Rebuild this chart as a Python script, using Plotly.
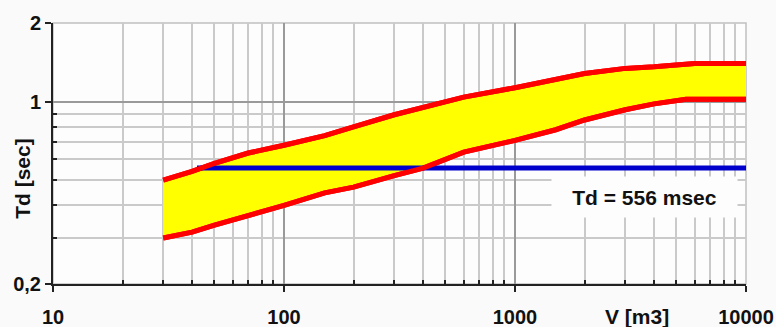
import plotly.graph_objects as go

# Volume [m3] and decay time Td [s] bounds of the band
vol_lower = [30, 40, 50, 70, 100, 150, 200, 300, 400, 600, 1000, 1500, 2000, 3000, 4000, 5500, 10000]
td_lower = [0.30, 0.316, 0.336, 0.364, 0.40, 0.447, 0.47, 0.52, 0.556, 0.64, 0.71, 0.78, 0.85, 0.93, 0.98, 1.02, 1.02]

vol_upper = [30, 40, 50, 70, 100, 150, 200, 300, 600, 1000, 2000, 3000, 4000, 6000, 10000]
td_upper = [0.50, 0.54, 0.58, 0.635, 0.68, 0.74, 0.80, 0.89, 1.04, 1.13, 1.28, 1.34, 1.36, 1.40, 1.40]

# Measured decay time
td_value = 0.556
vol_td = [42, 10000]

x_ticks = [10, 100, 1000, 10000]
x_ticktext = ["10", "100", "1000", "10000"]
x_minor = [m * d for d in (10, 100, 1000) for m in range(2, 10)]
y_ticks = [0.2, 1, 2]
y_ticktext = ["0,2", "1", "2"]
y_minor = [0.3, 0.4, 0.5, 0.6, 0.7, 0.8, 0.9]

FONT = "Liberation Sans"
RED = "#ff0000"
BLUE = "#0000cc"

fig = go.Figure()

fig.add_trace(go.Scatter(x=vol_lower, y=td_lower, mode="lines",
                         line=dict(color=RED, width=5), showlegend=False))
fig.add_trace(go.Scatter(x=vol_upper, y=td_upper, mode="lines", fill="tonexty",
                         fillcolor="#ffff00", line=dict(color=RED, width=5),
                         showlegend=False))
fig.add_trace(go.Scatter(x=vol_td, y=[td_value] * len(vol_td), mode="lines",
                         line=dict(color=BLUE, width=5), showlegend=False))
# redraw the curves above the blue line
fig.add_trace(go.Scatter(x=vol_lower, y=td_lower, mode="lines",
                         line=dict(color=RED, width=5), showlegend=False))
fig.add_trace(go.Scatter(x=vol_upper, y=td_upper, mode="lines",
                         line=dict(color=RED, width=5), showlegend=False))

tickfont = dict(family=FONT, size=20, color="#111", weight="bold")

fig.update_xaxes(
    type="log", range=[1, 4], automargin=False,
    tickvals=x_ticks, ticktext=x_ticktext, tickfont=tickfont,
    ticks="outside", ticklen=6, tickwidth=2, tickcolor="#222",
    ticklabelstandoff=8,
    showgrid=True, gridcolor="#9a9a9a", gridwidth=1.5,
    showline=True, linecolor="#222", linewidth=2,
    zeroline=False,
    minor=dict(tickvals=x_minor, ticks="inside", ticklen=4, tickwidth=1.5,
               tickcolor="#222", showgrid=True, gridcolor="#cacaca", gridwidth=1.5),
)
fig.update_yaxes(
    type="log", range=[-0.69897, 0.30103], automargin=False,
    tickvals=y_ticks, ticktext=y_ticktext, tickfont=tickfont,
    ticks="outside", ticklen=6, tickwidth=2, tickcolor="#222",
    showgrid=True, gridcolor="#9a9a9a", gridwidth=1.5,
    showline=True, linecolor="#222", linewidth=2,
    zeroline=False,
    minor=dict(tickvals=y_minor, ticks="inside", ticklen=4, tickwidth=1.5,
               tickcolor="#222", showgrid=True, gridcolor="#cacaca", gridwidth=1.5),
)

# light frame on top and right
fig.add_shape(type="rect", xref="paper", yref="paper", x0=0, x1=1, y0=0, y1=1,
              line=dict(color="#c0c0c0", width=1.5), layer="below")

fig.add_annotation(x=0.853, y=0.334, xref="paper", yref="paper",
                   text="<b>Td = 556 msec</b>", showarrow=False,
                   font=dict(family=FONT, size=21, color="#111"),
                   bgcolor="#fdfdfd", width=183, height=38,
                   xanchor="center", yanchor="middle")
fig.add_annotation(x=-0.045, y=0.406, xref="paper", yref="paper",
                   text="<b>Td [sec]</b>", showarrow=False, textangle=-90,
                   font=dict(family=FONT, size=21, color="#111"),
                   xanchor="center", yanchor="middle")
fig.add_annotation(x=0.843, y=-0.123, xref="paper", yref="paper",
                   text="<b>V [m3]</b>", showarrow=False,
                   font=dict(family=FONT, size=21, color="#111"),
                   xanchor="center", yanchor="middle")

fig.update_layout(
    width=776, height=327,
    margin=dict(l=53, r=30, t=23, b=43, autoexpand=False),
    paper_bgcolor="#fafafa", plot_bgcolor="#fdfdfd",
    showlegend=False,
)

fig.write_html("out.html")
